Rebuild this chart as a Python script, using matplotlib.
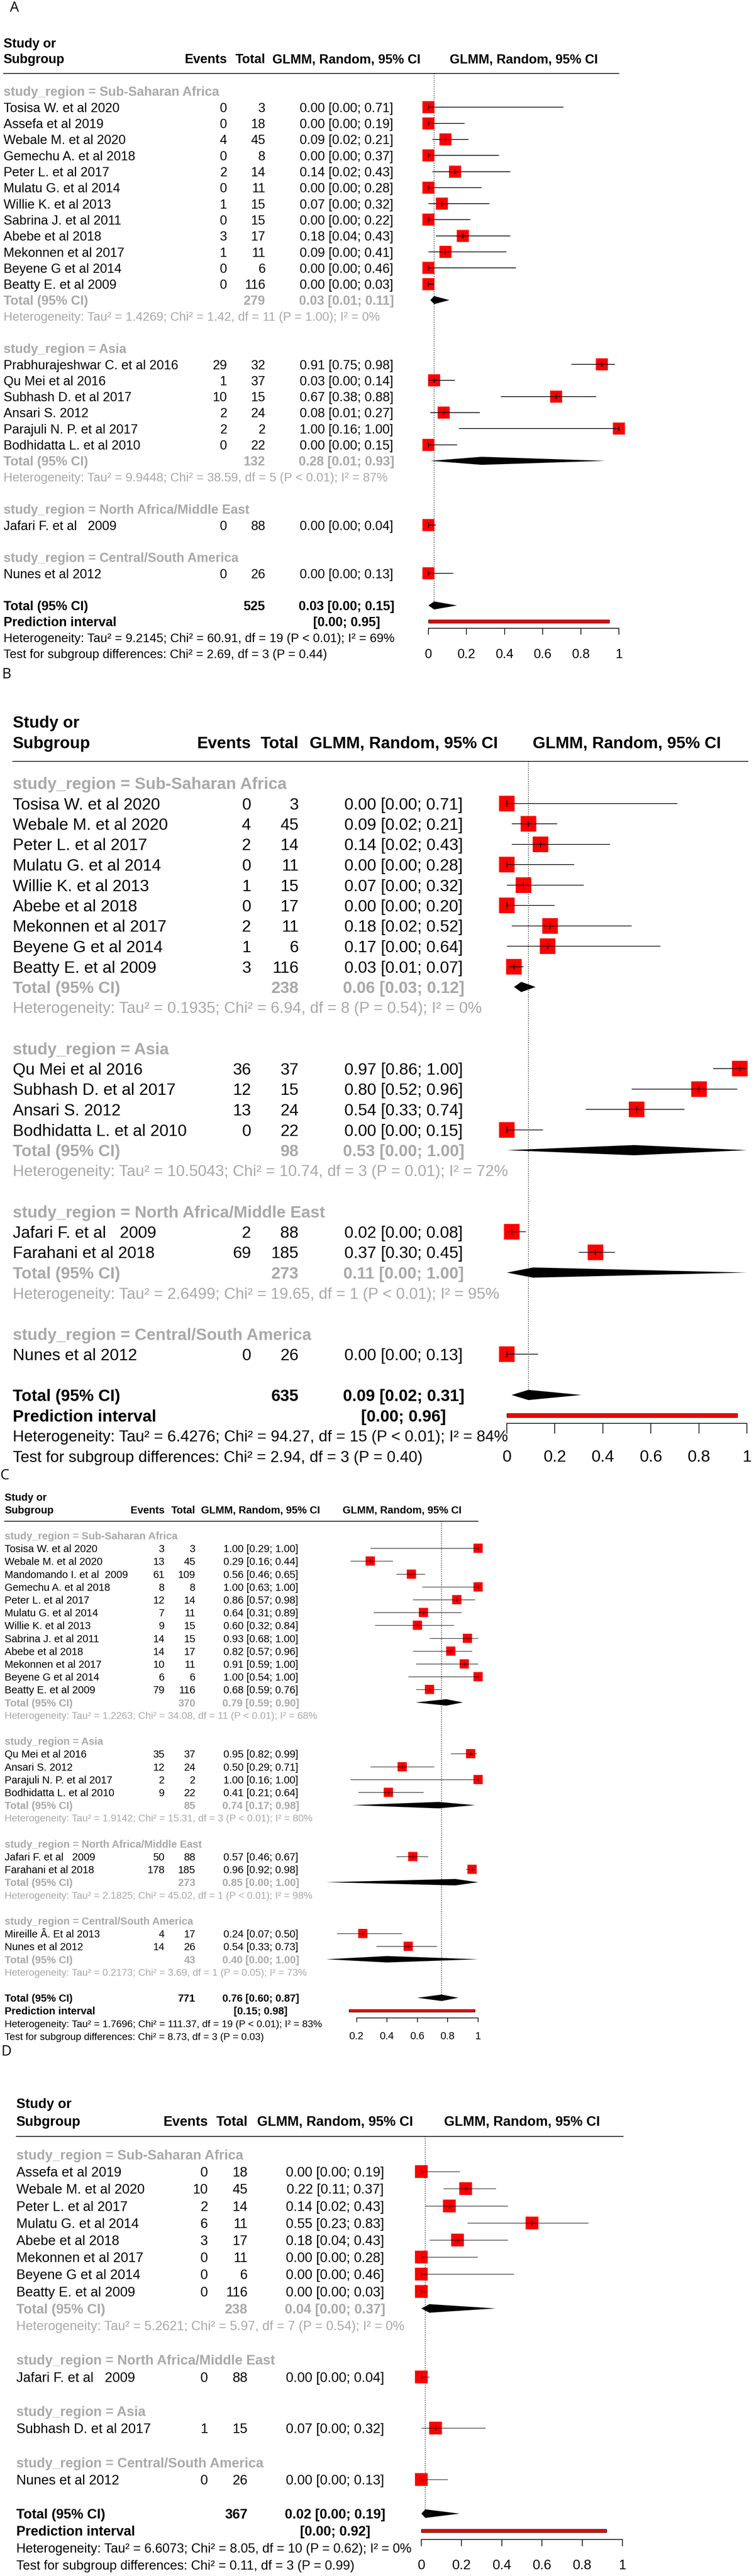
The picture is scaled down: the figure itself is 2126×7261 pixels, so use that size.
import matplotlib.pyplot as plt
from matplotlib.patches import Rectangle

plt.rcParams['font.family'] = ['Liberation Sans', 'DejaVu Sans']

W, H, DPI = 2126, 7261, 100
GRAY = "#a9a9a9"

# ---------------- panel A ----------------
a_regions = ["Sub-Saharan Africa", "Asia", "North Africa/Middle East", "Central/South America"]
a_study = ["Tosisa W. et al 2020", "Assefa et al 2019", "Webale M. et al 2020", "Gemechu A. et al 2018",
           "Peter L. et al 2017", "Mulatu G. et al 2014", "Willie K. et al 2013", "Sabrina J. et al 2011",
           "Abebe et al 2018", "Mekonnen et al 2017", "Beyene G et al 2014", "Beatty E. et al 2009",
           "Prabhurajeshwar C. et al 2016", "Qu Mei et al 2016", "Subhash D. et al 2017", "Ansari S. 2012",
           "Parajuli N. P. et al 2017", "Bodhidatta L. et al 2010", "Jafari F. et al   2009", "Nunes et al 2012"]
a_group = [0] * 12 + [1] * 6 + [2] + [3]
a_events = [0, 0, 4, 0, 2, 0, 1, 0, 3, 1, 0, 0, 29, 1, 10, 2, 2, 0, 0, 0]
a_totals = [3, 18, 45, 8, 14, 11, 15, 15, 17, 11, 6, 116, 32, 37, 15, 24, 2, 22, 88, 26]
a_est = [0.00, 0.00, 0.09, 0.00, 0.14, 0.00, 0.07, 0.00, 0.18, 0.09, 0.00, 0.00,
         0.91, 0.03, 0.67, 0.08, 1.00, 0.00, 0.00, 0.00]
a_lo = [0.00, 0.00, 0.02, 0.00, 0.02, 0.00, 0.00, 0.00, 0.04, 0.00, 0.00, 0.00,
        0.75, 0.00, 0.38, 0.01, 0.16, 0.00, 0.00, 0.00]
a_hi = [0.71, 0.19, 0.21, 0.37, 0.43, 0.28, 0.32, 0.22, 0.43, 0.41, 0.46, 0.03,
        0.98, 0.14, 0.88, 0.27, 1.00, 0.15, 0.04, 0.13]
a_sub_n = [279, 132, None, None]
a_sub_est = [0.03, 0.28, None, None]
a_sub_lo = [0.01, 0.01, None, None]
a_sub_hi = [0.11, 0.93, None, None]
a_sub_het = ["Tau² = 1.4269; Chi² = 1.42, df = 11 (P = 1.00); I² = 0%",
             "Tau² = 9.9448; Chi² = 38.59, df = 5 (P < 0.01); I² = 87%", None, None]
a_overall = [525, 0.03, 0.00, 0.15]
a_pi = [0.00, 0.95]
a_het = "Tau² = 9.2145; Chi² = 60.91, df = 19 (P < 0.01); I² = 69%"
a_test = "Chi² = 2.69, df = 3 (P = 0.44)"

# ---------------- panel B ----------------
b_regions = a_regions
b_study = ["Tosisa W. et al 2020", "Webale M. et al 2020", "Peter L. et al 2017", "Mulatu G. et al 2014",
           "Willie K. et al 2013", "Abebe et al 2018", "Mekonnen et al 2017", "Beyene G et al 2014",
           "Beatty E. et al 2009", "Qu Mei et al 2016", "Subhash D. et al 2017", "Ansari S. 2012",
           "Bodhidatta L. et al 2010", "Jafari F. et al   2009", "Farahani et al 2018", "Nunes et al 2012"]
b_group = [0] * 9 + [1] * 4 + [2] * 2 + [3]
b_events = [0, 4, 2, 0, 1, 0, 2, 1, 3, 36, 12, 13, 0, 2, 69, 0]
b_totals = [3, 45, 14, 11, 15, 17, 11, 6, 116, 37, 15, 24, 22, 88, 185, 26]
b_est = [0.00, 0.09, 0.14, 0.00, 0.07, 0.00, 0.18, 0.17, 0.03, 0.97, 0.80, 0.54, 0.00, 0.02, 0.37, 0.00]
b_lo = [0.00, 0.02, 0.02, 0.00, 0.00, 0.00, 0.02, 0.00, 0.01, 0.86, 0.52, 0.33, 0.00, 0.00, 0.30, 0.00]
b_hi = [0.71, 0.21, 0.43, 0.28, 0.32, 0.20, 0.52, 0.64, 0.07, 1.00, 0.96, 0.74, 0.15, 0.08, 0.45, 0.13]
b_sub_n = [238, 98, 273, None]
b_sub_est = [0.06, 0.53, 0.11, None]
b_sub_lo = [0.03, 0.00, 0.00, None]
b_sub_hi = [0.12, 1.00, 1.00, None]
b_sub_het = ["Tau² = 0.1935; Chi² = 6.94, df = 8 (P = 0.54); I² = 0%",
             "Tau² = 10.5043; Chi² = 10.74, df = 3 (P = 0.01); I² = 72%",
             "Tau² = 2.6499; Chi² = 19.65, df = 1 (P < 0.01); I² = 95%", None]
b_overall = [635, 0.09, 0.02, 0.31]
b_pi = [0.00, 0.96]
b_het = "Tau² = 6.4276; Chi² = 94.27, df = 15 (P < 0.01); I² = 84%"
b_test = "Chi² = 2.94, df = 3 (P = 0.40)"

# ---------------- panel C ----------------
c_regions = a_regions
c_study = ["Tosisa W. et al 2020", "Webale M. et al 2020", "Mandomando I. et al  2009", "Gemechu A. et al 2018",
           "Peter L. et al 2017", "Mulatu G. et al 2014", "Willie K. et al 2013", "Sabrina J. et al 2011",
           "Abebe et al 2018", "Mekonnen et al 2017", "Beyene G et al 2014", "Beatty E. et al 2009",
           "Qu Mei et al 2016", "Ansari S. 2012", "Parajuli N. P. et al 2017", "Bodhidatta L. et al 2010",
           "Jafari F. et al   2009", "Farahani et al 2018", "Mireille Â. Et al 2013", "Nunes et al 2012"]
c_group = [0] * 12 + [1] * 4 + [2] * 2 + [3] * 2
c_events = [3, 13, 61, 8, 12, 7, 9, 14, 14, 10, 6, 79, 35, 12, 2, 9, 50, 178, 4, 14]
c_totals = [3, 45, 109, 8, 14, 11, 15, 15, 17, 11, 6, 116, 37, 24, 2, 22, 88, 185, 17, 26]
c_est = [1.00, 0.29, 0.56, 1.00, 0.86, 0.64, 0.60, 0.93, 0.82, 0.91, 1.00, 0.68,
         0.95, 0.50, 1.00, 0.41, 0.57, 0.96, 0.24, 0.54]
c_lo = [0.29, 0.16, 0.46, 0.63, 0.57, 0.31, 0.32, 0.68, 0.57, 0.59, 0.54, 0.59,
        0.82, 0.29, 0.16, 0.21, 0.46, 0.92, 0.07, 0.33]
c_hi = [1.00, 0.44, 0.65, 1.00, 0.98, 0.89, 0.84, 1.00, 0.96, 1.00, 1.00, 0.76,
        0.99, 0.71, 1.00, 0.64, 0.67, 0.98, 0.50, 0.73]
c_sub_n = [370, 85, 273, 43]
c_sub_est = [0.79, 0.74, 0.85, 0.40]
c_sub_lo = [0.59, 0.17, 0.00, 0.00]
c_sub_hi = [0.90, 0.98, 1.00, 1.00]
c_sub_het = ["Tau² = 1.2263; Chi² = 34.08, df = 11 (P < 0.01); I² = 68%",
             "Tau² = 1.9142; Chi² = 15.31, df = 3 (P < 0.01); I² = 80%",
             "Tau² = 2.1825; Chi² = 45.02, df = 1 (P < 0.01); I² = 98%",
             "Tau² = 0.2173; Chi² = 3.69, df = 1 (P = 0.05); I² = 73%"]
c_overall = [771, 0.76, 0.60, 0.87]
c_pi = [0.15, 0.98]
c_het = "Tau² = 1.7696; Chi² = 111.37, df = 19 (P < 0.01); I² = 83%"
c_test = "Chi² = 8.73, df = 3 (P = 0.03)"

# ---------------- panel D ----------------
d_regions = ["Sub-Saharan Africa", "North Africa/Middle East", "Asia", "Central/South America"]
d_study = ["Assefa et al 2019", "Webale M. et al 2020", "Peter L. et al 2017", "Mulatu G. et al 2014",
           "Abebe et al 2018", "Mekonnen et al 2017", "Beyene G et al 2014", "Beatty E. et al 2009",
           "Jafari F. et al   2009", "Subhash D. et al 2017", "Nunes et al 2012"]
d_group = [0] * 8 + [1, 2, 3]
d_events = [0, 10, 2, 6, 3, 0, 0, 0, 0, 1, 0]
d_totals = [18, 45, 14, 11, 17, 11, 6, 116, 88, 15, 26]
d_est = [0.00, 0.22, 0.14, 0.55, 0.18, 0.00, 0.00, 0.00, 0.00, 0.07, 0.00]
d_lo = [0.00, 0.11, 0.02, 0.23, 0.04, 0.00, 0.00, 0.00, 0.00, 0.00, 0.00]
d_hi = [0.19, 0.37, 0.43, 0.83, 0.43, 0.28, 0.46, 0.03, 0.04, 0.32, 0.13]
d_sub_n = [238, None, None, None]
d_sub_est = [0.04, None, None, None]
d_sub_lo = [0.00, None, None, None]
d_sub_hi = [0.37, None, None, None]
d_sub_het = ["Tau² = 5.2621; Chi² = 5.97, df = 7 (P = 0.54); I² = 0%", None, None, None]
d_overall = [367, 0.02, 0.00, 0.19]
d_pi = [0.00, 0.92]
d_het = "Tau² = 6.6073; Chi² = 8.05, df = 10 (P = 0.62); I² = 0%"
d_test = "Chi² = 0.11, df = 3 (P = 0.99)"

# page layout of each panel (pixels)
LAYOUT = {
    "A": dict(label_xy=(41, 23), lab_x=10, ev_x=640, tot_x=748, est_x=977, x0=1208, x1=1745, line_x1=1745,
              study_y=121, sub_y=165, hline_y=207, row0=257, pitch=45.3, fs=26.3, sq=0.77, lw=1.5,
              axis_y=1771, tick_px=18, tlab_y=1841, ticks=[0, 0.2, 0.4, 0.6, 0.8, 1]),
    "B": dict(label_xy=(18, 1902), lab_x=36, ev_x=708, tot_x=842, est_x=1138, x0=1429, x1=2106, line_x1=2109,
              study_y=2034, sub_y=2092, hline_y=2146, row0=2207, pitch=57.5, fs=33.4, sq=0.77, lw=1.4,
              axis_y=4012, tick_px=29, tlab_y=4103, ticks=[0, 0.2, 0.4, 0.6, 0.8, 1]),
    "C": dict(label_xy=(13, 4160), lab_x=13, ev_x=464, tot_x=551, est_x=735, x0=920, x1=1348, line_x1=1348,
              study_y=4219, sub_y=4255, hline_y=4288, row0=4328, pitch=36.2, fs=21.1, sq=0.73, lw=1.0,
              axis_y=5688, tick_px=12, tlab_y=5736, ticks=[0.2, 0.4, 0.6, 0.8, 1]),
    "D": dict(label_xy=(18, 5784), lab_x=46, ev_x=586, tot_x=698, est_x=945, x0=1188, x1=1755, line_x1=1757,
              study_y=5928, sub_y=5978, hline_y=6022, row0=6073, pitch=48.2, fs=27.6, sq=0.75, lw=1.0,
              axis_y=7158, tick_px=19, tlab_y=7228, ticks=[0, 0.2, 0.4, 0.6, 0.8, 1]),
}


def ci_text(e, l, h):
    return f"{e:.2f} [{l:.2f}; {h:.2f}]"


def draw_panel(fig, name, regions, study, group, events, totals, est, lo, hi,
               sub_n, sub_est, sub_lo, sub_hi, sub_het, overall, pi, het, test):
    L = LAYOUT[name]
    fs = L["fs"]
    fs_het = fs * 0.955
    pt = 72.0 / DPI  # points per pixel
    row0, pitch = L["row0"], L["pitch"]

    def to_row(y):
        return (y - row0) / pitch

    r_top, r_bot = to_row(L["hline_y"]), to_row(L["axis_y"])
    rect_h = (L["axis_y"] - L["hline_y"]) / H
    bottom = 1 - L["axis_y"] / H

    tax = fig.add_axes([0, bottom, 1, rect_h])
    tax.set_xlim(0, W)
    tax.set_ylim(r_bot, r_top)
    tax.axis("off")

    ax = fig.add_axes([L["x0"] / W, bottom, (L["x1"] - L["x0"]) / W, rect_h])
    ax.set_xlim(0, 1)
    ax.set_ylim(r_bot, r_top)
    ax.patch.set_visible(False)

    def put(x, r, s, size=fs, **kw):
        tax.text(x, r, s, fontsize=size, va="center_baseline", clip_on=False, **kw)

    # header
    put(L["lab_x"], to_row(L["study_y"]), "Study or", weight="bold")
    sr = to_row(L["sub_y"])
    put(L["lab_x"], sr, "Subgroup", weight="bold")
    put(L["ev_x"], sr, "Events", weight="bold", ha="right")
    put(L["tot_x"], sr, "Total", weight="bold", ha="right")
    put(L["est_x"], sr, "GLMM, Random, 95% CI", weight="bold", ha="center")
    put((L["x0"] + L["x1"]) / 2, sr, "GLMM, Random, 95% CI", weight="bold", ha="center")
    tax.plot([L["lab_x"], L["line_x1"]], [r_top, r_top], color="black", lw=1.5, clip_on=False)

    sq_ms = L["sq"] * pitch * pt
    lw = L["lw"]
    dh = 0.25

    def diamond(r, e, l, h):
        ax.fill([l, e, h, e], [r, r - dh, r, r + dh], color="black", lw=0, clip_on=False, zorder=3)

    r = 0
    for gi, reg in enumerate(regions):
        put(L["lab_x"], r, "study_region = " + reg, color=GRAY, weight="bold")
        r += 1
        for i in range(len(study)):
            if group[i] != gi:
                continue
            put(L["lab_x"], r, study[i])
            put(L["ev_x"], r, str(events[i]), ha="right")
            put(L["tot_x"], r, str(totals[i]), ha="right")
            put(L["est_x"], r, ci_text(est[i], lo[i], hi[i]), ha="center")
            ax.plot(est[i], r, marker="s", ms=sq_ms, mew=0, color="red", clip_on=False, zorder=2)
            ax.plot([lo[i], hi[i]], [r, r], color="black", lw=lw, clip_on=False, zorder=3,
                    solid_capstyle="butt")
            ax.plot(est[i], r, marker="|", ms=sq_ms * 0.4, mew=lw, color="black", clip_on=False, zorder=4)
            r += 1
        if sub_n[gi] is not None:
            put(L["lab_x"], r, "Total (95% CI)", color=GRAY, weight="bold")
            put(L["tot_x"], r, str(sub_n[gi]), color=GRAY, weight="bold", ha="right")
            put(L["est_x"], r, ci_text(sub_est[gi], sub_lo[gi], sub_hi[gi]), color=GRAY,
                weight="bold", ha="center")
            diamond(r, sub_est[gi], sub_lo[gi], sub_hi[gi])
            r += 1
            put(L["lab_x"], r, "Heterogeneity: " + sub_het[gi], size=fs_het, color=GRAY)
            r += 1
        r += 1

    total_row = r
    n_all, e_all, l_all, h_all = overall
    put(L["lab_x"], r, "Total (95% CI)", weight="bold")
    put(L["tot_x"], r, str(n_all), weight="bold", ha="right")
    put(L["est_x"], r, ci_text(e_all, l_all, h_all), weight="bold", ha="center")
    diamond(r, e_all, l_all, h_all)
    r += 1
    put(L["lab_x"], r, "Prediction interval", weight="bold")
    put(L["est_x"], r, f"[{pi[0]:.2f}; {pi[1]:.2f}]", weight="bold", ha="center")
    ax.add_patch(Rectangle((pi[0], r - 0.1), pi[1] - pi[0], 0.2, facecolor="red",
                           edgecolor="black", lw=1.0, clip_on=False, zorder=3))
    r += 1
    put(L["lab_x"], r, "Heterogeneity: " + het, size=fs_het)
    r += 1
    put(L["lab_x"], r, "Test for subgroup differences: " + test, size=fs_het)

    # reference line at the overall estimate
    ax.plot([e_all, e_all], [r_top, total_row], color="black", lw=1.3, ls=(0, (1.2, 2.2)),
            clip_on=False, zorder=1)

    # x axis
    for side in ["top", "left", "right"]:
        ax.spines[side].set_visible(False)
    ax.spines["bottom"].set_bounds(L["ticks"][0], L["ticks"][-1])
    ax.spines["bottom"].set_linewidth(1.5)
    ax.set_yticks([])
    ax.set_xticks(L["ticks"])
    ax.set_xticklabels([f"{t:g}" for t in L["ticks"]])
    fs_px = fs / pt
    pad_px = L["tlab_y"] - 0.358 * fs_px - (L["axis_y"] + L["tick_px"])
    ax.tick_params(axis="x", direction="out", length=L["tick_px"] * pt, width=1.5,
                   labelsize=fs, pad=pad_px * pt)

    lx, ly = L["label_xy"]
    fig.text(lx / W, 1 - ly / H, name, fontsize=29, family=["Open Sans", "DejaVu Sans"],
             ha="center", va="center")


fig = plt.figure(figsize=(W / DPI, H / DPI), dpi=DPI)
fig.patch.set_facecolor("white")

draw_panel(fig, "A", a_regions, a_study, a_group, a_events, a_totals, a_est, a_lo, a_hi,
           a_sub_n, a_sub_est, a_sub_lo, a_sub_hi, a_sub_het, a_overall, a_pi, a_het, a_test)
draw_panel(fig, "B", b_regions, b_study, b_group, b_events, b_totals, b_est, b_lo, b_hi,
           b_sub_n, b_sub_est, b_sub_lo, b_sub_hi, b_sub_het, b_overall, b_pi, b_het, b_test)
draw_panel(fig, "C", c_regions, c_study, c_group, c_events, c_totals, c_est, c_lo, c_hi,
           c_sub_n, c_sub_est, c_sub_lo, c_sub_hi, c_sub_het, c_overall, c_pi, c_het, c_test)
draw_panel(fig, "D", d_regions, d_study, d_group, d_events, d_totals, d_est, d_lo, d_hi,
           d_sub_n, d_sub_est, d_sub_lo, d_sub_hi, d_sub_het, d_overall, d_pi, d_het, d_test)

fig.savefig("out.png", dpi=DPI)
